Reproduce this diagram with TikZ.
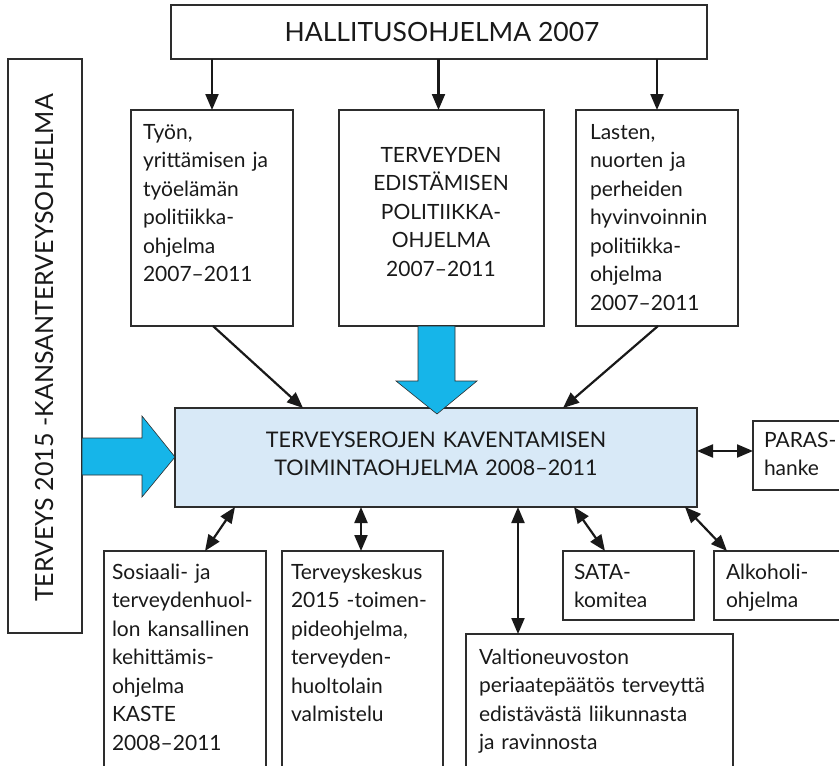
\documentclass[tikz,border=0pt]{standalone}
\usepackage{fontspec}
\setmainfont{Lato}
\usetikzlibrary{arrows.meta,calc}
\definecolor{ablue}{RGB}{22,181,233}
\definecolor{mfill}{RGB}{216,233,247}
\definecolor{edge}{RGB}{45,45,45}
\begin{document}
\begin{tikzpicture}[x=1pt,y=-1pt,
  box/.style={draw=edge,line width=1.3pt,inner sep=0pt,outer sep=0pt,anchor=north west},
  txt/.style={inner sep=0pt,outer sep=0pt,font=\fontsize{21}{28.5}\selectfont,text=black!90},
  arr/.style={draw=black!90,line width=2.2pt,arrows={-Triangle[length=16pt,width=13pt]}},
  darr/.style={draw=black!90,line width=2.2pt,arrows={Triangle[length=16pt,width=13pt]-Triangle[length=16pt,width=13pt]}},
  bigarrow/.style={draw=edge,line width=0.6pt,fill=ablue}
]
\useasboundingbox (0,0) rectangle (839,766);
\clip (0,0) rectangle (839,766);

% boxes
\node[box,minimum width=536pt,minimum height=54pt] (top) at (171,5) {};
\node[box,minimum width=74pt,minimum height=574pt] (left) at (8,59) {};
\node[box,minimum width=162pt,minimum height=216pt] (b1) at (131,110) {};
\node[box,minimum width=205pt,minimum height=216pt] (b2) at (339,110) {};
\node[box,minimum width=162pt,minimum height=216pt] (b3) at (576,110) {};
\node[box,fill=mfill,minimum width=522pt,minimum height=99pt] (main) at (175,408) {};
\node[box,minimum width=100pt,minimum height=69pt] (paras) at (753,421) {};
\node[box,minimum width=162pt,minimum height=230pt] (sos) at (104,551) {};
\node[box,minimum width=161pt,minimum height=230pt] (tk) at (282,551) {};
\node[box,minimum width=267pt,minimum height=150pt] (valt) at (466,634) {};
\node[box,minimum width=131pt,minimum height=69pt] (sata) at (563,551) {};
\node[box,minimum width=140pt,minimum height=69pt] (alk) at (714,551) {};

% texts
\node[txt,anchor=base,font=\fontsize{26.5}{30}\selectfont] (ttop) at (442,41) {HALLITUSOHJELMA 2007};
\node[txt,anchor=base,rotate=90,font=\fontsize{25}{28}\selectfont] (tleft) at (53,348) {TERVEYS 2015 -KANSANTERVEYSOHJELMA};
\node[txt,anchor=base west,text width=150pt,align=left] (tb1) at (143,139)
  {Työn,\\yrittämisen ja\\työelämän\\politiikka-\\ohjelma\\2007–2011};
\node[txt,anchor=base,text width=200pt,align=center] (tb2) at (441,162)
  {TERVEYDEN\\EDISTÄMISEN\\POLITIIKKA-\\OHJELMA\\2007–2011};
\node[txt,anchor=base west,text width=150pt,align=left] (tb3) at (590,139)
  {Lasten,\\nuorten ja\\perheiden\\hyvinvoinnin\\politiikka-\\ohjelma\\2007–2011};
\node[txt,anchor=base,text width=500pt,align=center,font=\fontsize{21.5}{28}\selectfont] (tmain) at (436,447)
  {TERVEYSEROJEN KAVENTAMISEN\\TOIMINTAOHJELMA 2008–2011};
\node[txt,anchor=base west,text width=80pt,align=left] (tparas) at (764,447) {PARAS-\\hanke};
\node[txt,anchor=base west,text width=160pt,align=left] (tsos) at (112,579)
  {Sosiaali- ja\\terveydenhuol-\\lon kansallinen\\kehittämis-\\ohjelma\\KASTE\\2008–2011};
\node[txt,anchor=base west,text width=160pt,align=left] (ttk) at (291,579)
  {Terveyskeskus\\2015 -toimen-\\pideohjelma,\\terveyden-\\huoltolain\\valmistelu};
\node[txt,anchor=base west,text width=260pt,align=left] (tvalt) at (479,664)
  {Valtioneuvoston\\periaatepäätös terveyttä\\edistävästä liikunnasta\\ja ravinnosta};
\node[txt,anchor=base west,text width=120pt,align=left] (tsata) at (574,579) {SATA-\\komitea};
\node[txt,anchor=base west,text width=120pt,align=left] (talk) at (726,579) {Alkoholi-\\ohjelma};

% connectors from top box
\coordinate (m2) at ($(b2.north)+(-3,0)$);
\draw[arr] (b1.north |- top.south) -- (b1.north);
\draw[arr] (m2 |- top.south) -- (m2);
\draw[arr] (b3.north |- top.south) -- (b3.north);

% into main box
\draw[arr] ($(b1.south)+(1,0)$) -- ($(main.north west)+(128,0)$);
\draw[arr] ($(b3.south)+(1,0)$) -- ($(main.north east)+(-134,0)$);

% big blue arrows
\draw[bigarrow] (418,326) -- (455,326) -- (455,381) -- (477,381) -- (437,414)
  -- (396,381) -- (418,381) -- cycle;
\draw[bigarrow] (82,438) -- (142,438) -- (142,416) -- (175,457) -- (142,497)
  -- (142,475) -- (82,475) -- cycle;

% two-way connectors
\draw[darr] ($(main.south west)+(60,0)$) -- ($(sos.north west)+(101,0)$);
\draw[darr] ($(main.south west)+(186,0)$) -- ($(tk.north west)+(79,0)$);
\draw[darr] ($(main.south west)+(343,0)$) -- ($(valt.north west)+(52,0)$);
\draw[darr] ($(main.south west)+(399,0)$) -- ($(sata.north west)+(42,0)$);
\draw[darr] ($(main.south east)+(-12,0)$) -- ($(alk.north west)+(13,0)$);
\coordinate (pa) at ($(main.east)+(0,-6.5)$);
\draw[darr] (pa) -- (pa -| paras.west);
\end{tikzpicture}
\end{document}
